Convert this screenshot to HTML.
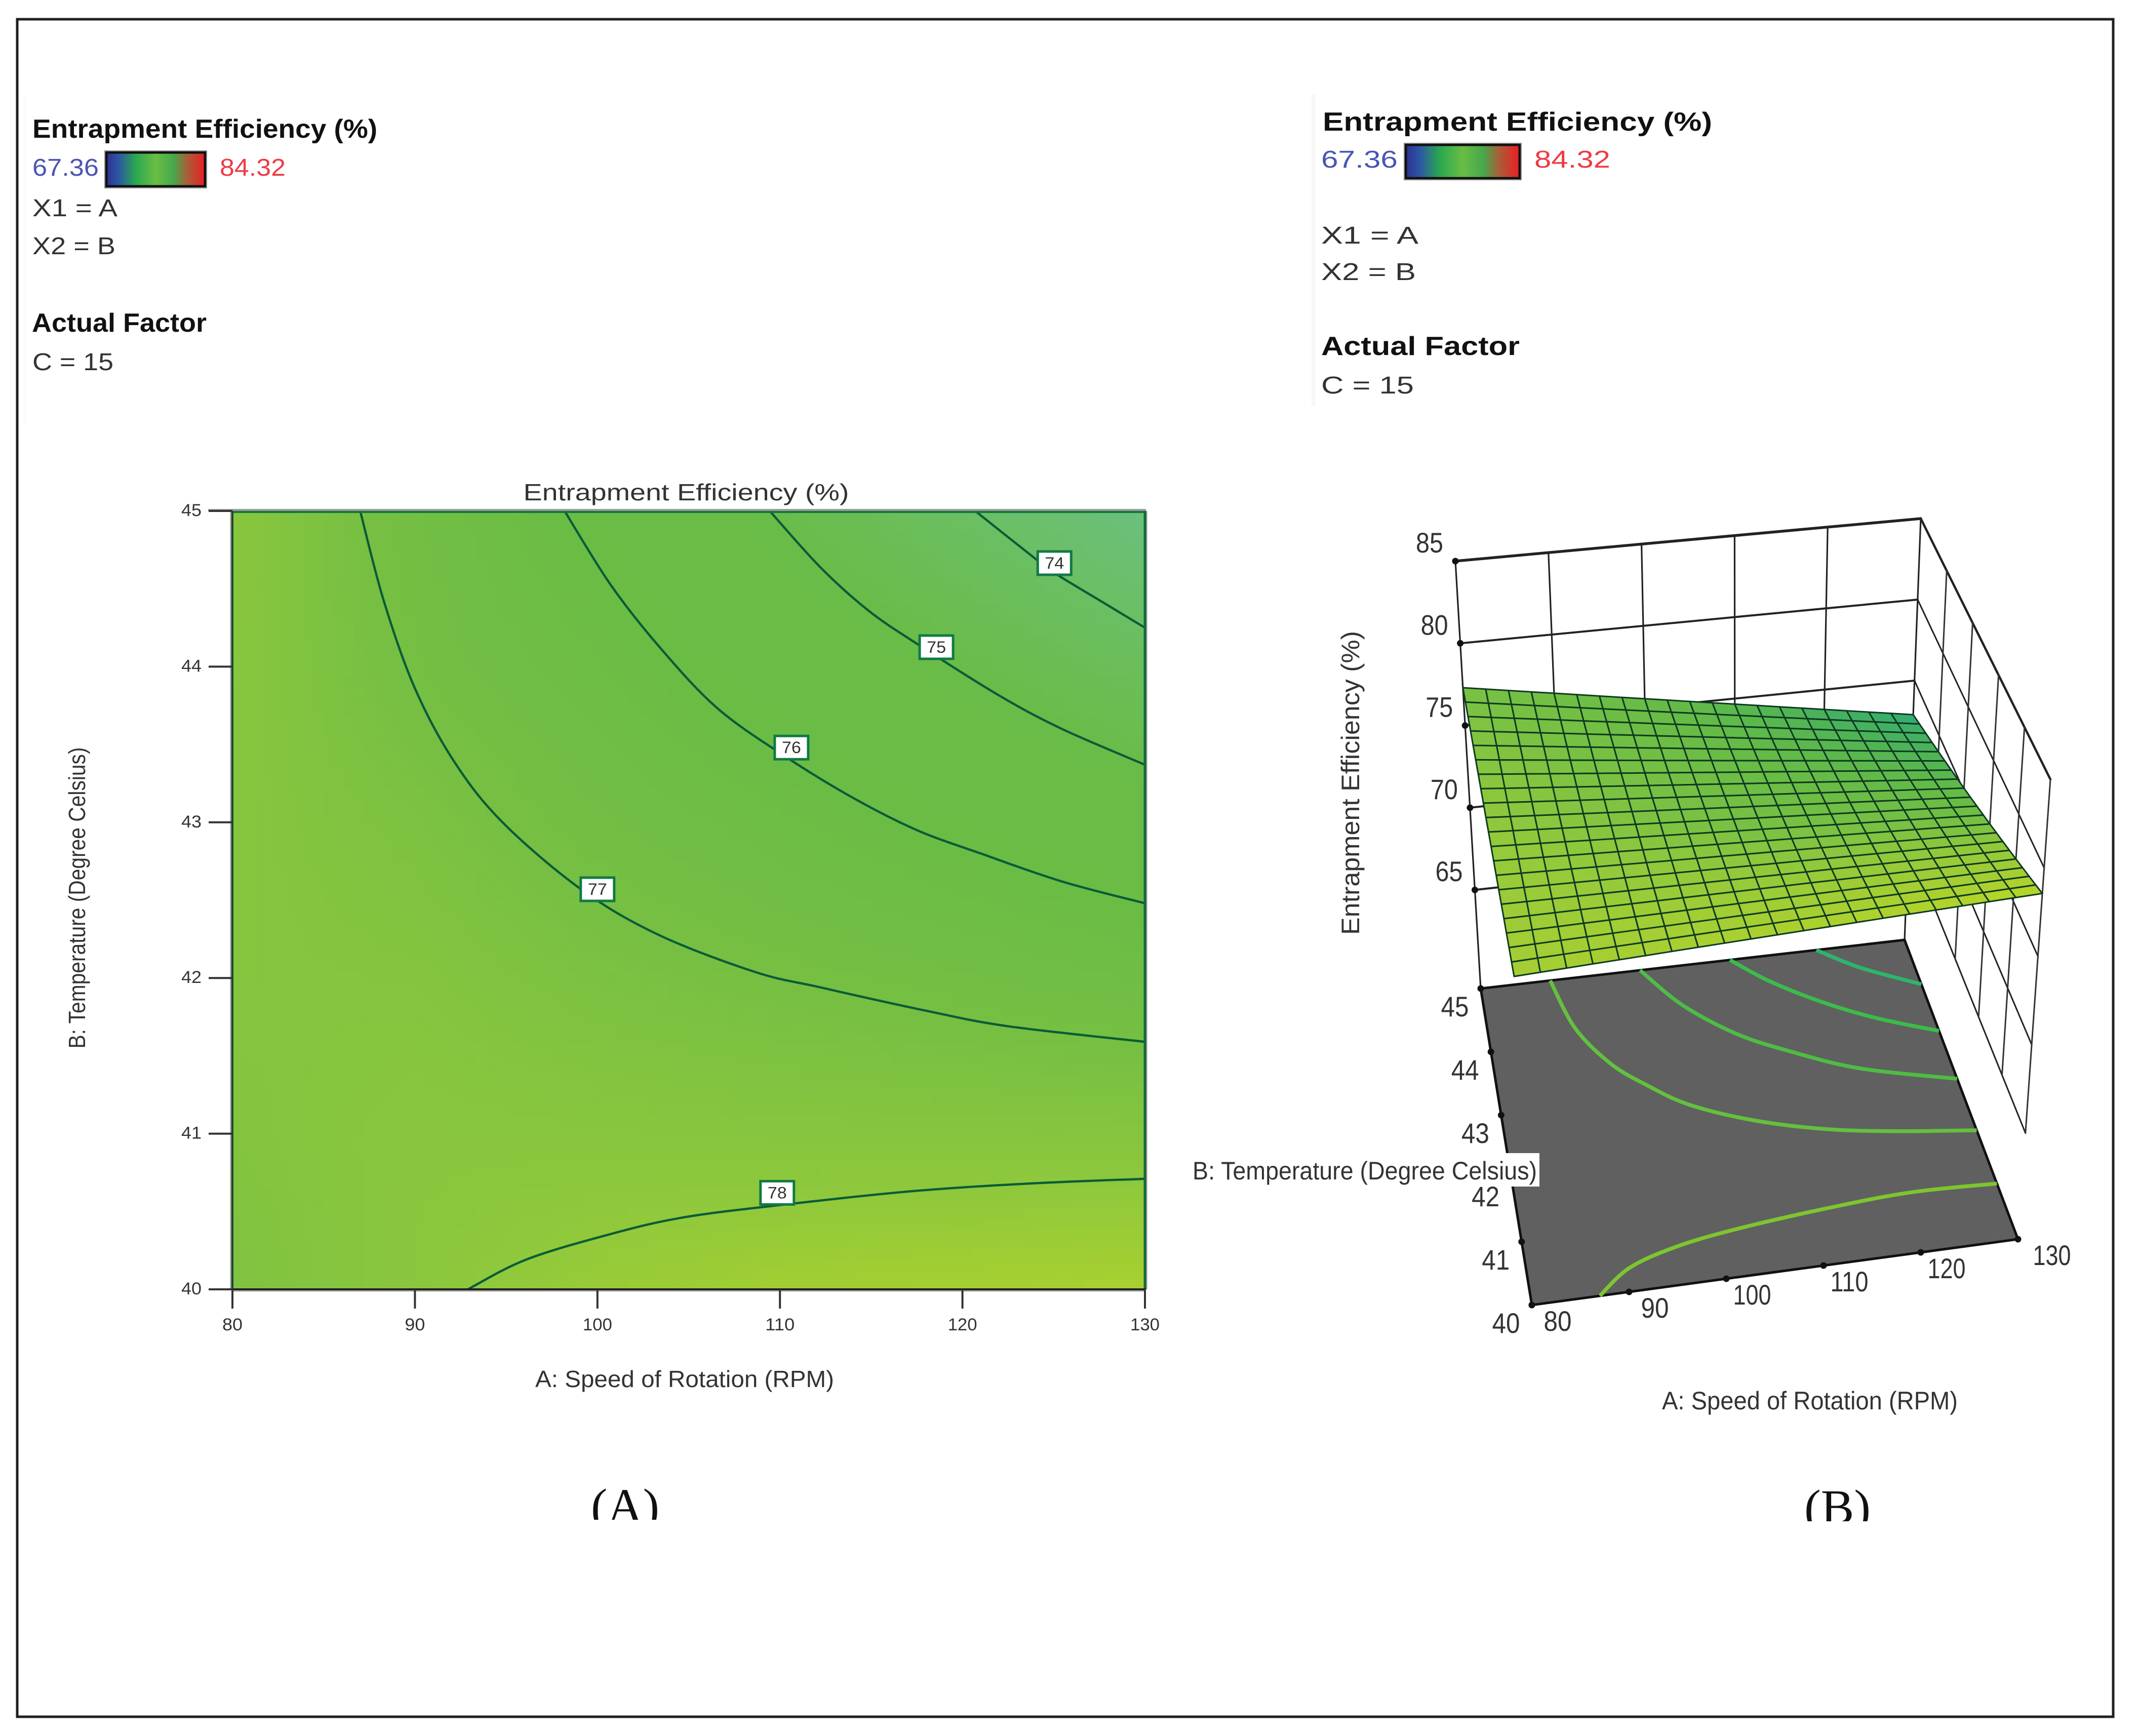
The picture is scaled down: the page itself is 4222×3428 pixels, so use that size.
<!DOCTYPE html>
<html lang="en">
<head>
<meta charset="utf-8">
<title>Entrapment Efficiency contour and surface plots</title>
<style>
html,body{margin:0;padding:0;background:#fff;}
svg{display:block;}
text{font-family:"Liberation Sans",sans-serif;}
.lg{font-size:48px;fill:#333;}
.lgb{font-size:52px;font-weight:bold;fill:#111;}
.ax{font-size:46px;fill:#333;}
.cap{font-family:"Liberation Serif",serif;font-size:98px;fill:#111;}
</style>
</head>
<body>
<svg id="root" xmlns="http://www.w3.org/2000/svg" width="4222" height="3428" viewBox="0 0 4222 3428">
<defs>
<linearGradient id="legendGrad" x1="0" x2="1" y1="0" y2="0">
<stop offset="0" stop-color="#2e3192"/><stop offset="0.12" stop-color="#2c55a5"/>
<stop offset="0.3" stop-color="#2aa84f"/><stop offset="0.5" stop-color="#6abd45"/>
<stop offset="0.68" stop-color="#45a84b"/><stop offset="0.82" stop-color="#a95e36"/>
<stop offset="1" stop-color="#ed1c24"/>
</linearGradient>
<clipPath id="capAClip"><rect x="1100" y="2900" width="300" height="101"/></clipPath>
<clipPath id="capBClip"><rect x="3500" y="2900" width="300" height="104"/></clipPath>
</defs>
<rect x="0" y="0" width="4222" height="3428" fill="#fff"/>
<rect x="34" y="38" width="4139" height="3352" fill="none" stroke="#231f20" stroke-width="5"/>
<rect x="46" y="190" width="6" height="650" fill="#fbfbfb"/>
<rect x="2590" y="186" width="8" height="616" fill="#f8f8f8"/>

<g>
<text class="lgb" x="64" y="272" textLength="681" lengthAdjust="spacingAndGlyphs">Entrapment Efficiency (%)</text>
<text class="lg" x="64" y="347" textLength="131" lengthAdjust="spacingAndGlyphs" style="fill:#4a55b5">67.36</text>
<rect x="210" y="301" width="195" height="67" fill="url(#legendGrad)" stroke="#111" stroke-width="5"/>
<rect x="207" y="298" width="201" height="73" fill="none" stroke="#8a8a8a" stroke-width="2"/>
<text class="lg" x="434" y="347" textLength="130" lengthAdjust="spacingAndGlyphs" style="fill:#ee3b45">84.32</text>
<text class="lg" x="64" y="427" textLength="168" lengthAdjust="spacingAndGlyphs">X1 = A</text>
<text class="lg" x="64" y="502" textLength="164" lengthAdjust="spacingAndGlyphs">X2 = B</text>
<text class="lgb" x="63" y="655" textLength="345" lengthAdjust="spacingAndGlyphs">Actual Factor</text>
<text class="lg" x="64" y="731" textLength="160" lengthAdjust="spacingAndGlyphs">C = 15</text>
</g>

<g>
<text class="lgb" x="2612" y="258" textLength="769" lengthAdjust="spacingAndGlyphs">Entrapment Efficiency (%)</text>
<text class="lg" x="2609" y="331" textLength="151" lengthAdjust="spacingAndGlyphs" style="fill:#4a55b5">67.36</text>
<rect x="2776" y="286" width="225" height="66" fill="url(#legendGrad)" stroke="#111" stroke-width="5"/>
<rect x="2773" y="283" width="231" height="72" fill="none" stroke="#8a8a8a" stroke-width="2"/>
<text class="lg" x="3030" y="331" textLength="150" lengthAdjust="spacingAndGlyphs" style="fill:#ee3b45">84.32</text>
<text class="lg" x="2609" y="481" textLength="192" lengthAdjust="spacingAndGlyphs">X1 = A</text>
<text class="lg" x="2609" y="553" textLength="187" lengthAdjust="spacingAndGlyphs">X2 = B</text>
<text class="lgb" x="2609" y="701" textLength="392" lengthAdjust="spacingAndGlyphs">Actual Factor</text>
<text class="lg" x="2609" y="777" textLength="183" lengthAdjust="spacingAndGlyphs">C = 15</text>
</g>

<g id="contourPlot"></g>
<text class="ax" x="1355" y="988" text-anchor="middle" textLength="643" lengthAdjust="spacingAndGlyphs">Entrapment Efficiency (%)</text>
<text class="ax" x="1352" y="2739" text-anchor="middle" textLength="590" lengthAdjust="spacingAndGlyphs">A: Speed of Rotation (RPM)</text>
<text class="ax" x="168" y="1773" text-anchor="middle" textLength="595" lengthAdjust="spacingAndGlyphs" transform="rotate(-90 168 1773)">B: Temperature (Degree Celsius)</text>

<g id="surfacePlot"></g>
<text class="ax" x="2684" y="1546" text-anchor="middle" textLength="600" lengthAdjust="spacingAndGlyphs" transform="rotate(-90 2684 1546)" style="font-size:50px">Entrapment Efficiency (%)</text>
<text class="ax" x="3574" y="2783" text-anchor="middle" textLength="584" lengthAdjust="spacingAndGlyphs" style="font-size:50px">A: Speed of Rotation (RPM)</text>
<rect x="2350" y="2277" width="690" height="66" fill="#fff"/>
<text class="ax" x="2355" y="2329" textLength="680" lengthAdjust="spacingAndGlyphs" style="font-size:50px">B: Temperature (Degree Celsius)</text>

<text class="cap" x="1167" y="3007" textLength="135" lengthAdjust="spacingAndGlyphs" clip-path="url(#capAClip)">(A)</text>
<text class="cap" x="3563" y="3009" textLength="131" lengthAdjust="spacingAndGlyphs" clip-path="url(#capBClip)">(B)</text>
</svg>

<script>
// ---- Chart data ----
const rpmTicks = [80, 90, 100, 110, 120, 130];
const tempTicks = [40, 41, 42, 43, 44, 45];
const effTicks = [65, 70, 75, 80, 85];

// Panel A background response at every rpmTicks (column) / tempTicks (row) crossing
const effAt40 = [77.4, 77.85, 78.3, 78.55, 78.65, 78.75];
const effAt41 = [77.55, 77.8, 77.75, 77.68, 77.67, 77.66];
const effAt42 = [77.65, 77.6, 77.25, 77.0, 76.75, 76.46];
const effAt43 = [77.7, 77.3, 76.76, 76.33, 75.85, 75.4];
const effAt44 = [77.75, 76.9, 76.3, 75.62, 74.95, 74.3];
const effAt45 = [77.8, 76.75, 75.8, 74.9, 74.05, 73.25];

// Panel A contour lines: speed / temperature pairs
const contour74Rpm = [120.7, 124.03, 125.2, 127.6, 130];
const contour74Temp = [45, 44.69, 44.59, 44.42, 44.25];
const contour75Rpm = [109.44, 112.2, 114.85, 117.6, 121.93, 125.45, 130];
const contour75Temp = [45, 44.64, 44.36, 44.14, 43.82, 43.6, 43.37];
const contour76Rpm = [98.2, 100.7, 103.3, 106.5, 110.2, 113.96, 117.5, 121, 125.45, 130];
const contour76Temp = [45, 44.53, 44.14, 43.74, 43.43, 43.16, 42.95, 42.8, 42.62, 42.48];
const contour77Rpm = [87, 88.3, 90, 92.15, 94.8, 99.1, 103.3, 108.6, 112.2, 118, 122.5, 130];
const contour77Temp = [45, 44.42, 43.86, 43.39, 43, 42.57, 42.28, 42.04, 41.94, 41.79, 41.69, 41.59];
const contour78Rpm = [92.9, 96.07, 100.56, 104.6, 109.9, 117.2, 123.7, 130];
const contour78Temp = [40, 40.19, 40.35, 40.46, 40.54, 40.63, 40.68, 40.71];

// Panel B floor contours: speed / temperature pairs
const floor74Rpm = [119.6, 123.85, 130];
const floor74Temp = [45, 44.64, 44.26];
const floor75Rpm = [109.4, 113.2, 118.5, 123.8, 130];
const floor75Temp = [45, 44.59, 44.15, 43.8, 43.48];
const floor76Rpm = [98.8, 102.6, 107.7, 113, 120, 130];
const floor76Temp = [45, 44.38, 43.83, 43.45, 43.04, 42.68];
const floor77Rpm = [88.2, 89.96, 93.1, 96.5, 100.6, 107, 114.2, 121.6, 130];
const floor77Temp = [45, 44.21, 43.59, 43.19, 42.8, 42.43, 42.15, 41.97, 41.82];
const floor78Rpm = [87, 90.5, 95.6, 102, 111.7, 121, 130];
const floor78Temp = [40, 40.37, 40.6, 40.75, 40.89, 40.97, 40.93];

// Panel B surface height at rpm 80 / 130
const surfaceEffAt45 = [77.3, 72.9];
const surfaceEffAt40 = [77.2, 78.55];
// Panel B surface colour level at rpm 80 / 105 / 130
const surfaceShadeAt45 = [76, 74.8, 72.8];
const surfaceShadeAt42 = [77, 75.8, 75.3];
const surfaceShadeAt40 = [78, 78.4, 79];

const contourLevels = [74, 75, 76, 77, 78];
const contourLabelRpm = [125.04, 118.57, 110.63, 100, 109.85];
const contourLabelTemp = [44.665, 44.125, 43.48, 42.57, 40.62];

// ---- Rendering ----
const NS = 'http://www.w3.org/2000/svg';
const contourRoot = document.getElementById('contourPlot');
const surfaceRoot = document.getElementById('surfacePlot');
const effGrid = [effAt40, effAt41, effAt42, effAt43, effAt44, effAt45];
const contourRpms = [contour74Rpm, contour75Rpm, contour76Rpm, contour77Rpm, contour78Rpm];
const contourTemps = [contour74Temp, contour75Temp, contour76Temp, contour77Temp, contour78Temp];
const floorRpms = [floor74Rpm, floor75Rpm, floor76Rpm, floor77Rpm, floor78Rpm];
const floorTemps = [floor74Temp, floor75Temp, floor76Temp, floor77Temp, floor78Temp];

function svg(tag, attrs, parent) {
  const n = document.createElementNS(NS, tag);
  for (const k in attrs) n.setAttribute(k, attrs[k]);
  parent.appendChild(n);
  return n;
}
function effAt(rpm, temp) {
  const fx = Math.min(4.9999, Math.max(0, (rpm - 80) / 10));
  const fy = Math.min(4.9999, Math.max(0, temp - 40));
  const i = Math.floor(fx), j = Math.floor(fy), a = fx - i, b = fy - j;
  return (effGrid[j][i] * (1 - a) + effGrid[j][i + 1] * a) * (1 - b) +
         (effGrid[j + 1][i] * (1 - a) + effGrid[j + 1][i + 1] * a) * b;
}
function surfaceEff(rpm, temp) {
  const a = (rpm - 80) / 50, b = (temp - 40) / 5;
  const low = surfaceEffAt40[0] * (1 - a) + surfaceEffAt40[1] * a;
  const high = surfaceEffAt45[0] * (1 - a) + surfaceEffAt45[1] * a;
  return low * (1 - b) + high * b;
}
function surfaceShade(rpm, temp) {
  const fx = Math.min(1.9999, (rpm - 80) / 25);
  const fy = Math.min(1.9999, (temp - 40) / 2.5);
  const i = Math.floor(fx), j = Math.floor(fy), a = fx - i, b = fy - j;
  const rows = [surfaceShadeAt40, surfaceShadeAt42, surfaceShadeAt45];
  return (rows[j][i] * (1 - a) + rows[j][i + 1] * a) * (1 - b) +
         (rows[j + 1][i] * (1 - a) + rows[j + 1][i + 1] * a) * b;
}
function ramp(stops, v) {
  if (v <= stops[0][0]) return 'rgb(' + stops[0].slice(1).join(',') + ')';
  for (let i = 1; i < stops.length; i++) {
    if (v <= stops[i][0]) {
      const t = (v - stops[i - 1][0]) / (stops[i][0] - stops[i - 1][0]);
      const c = [1, 2, 3].map(k => Math.round(stops[i - 1][k] + (stops[i][k] - stops[i - 1][k]) * t));
      return 'rgb(' + c.join(',') + ')';
    }
  }
  return 'rgb(' + stops[stops.length - 1].slice(1).join(',') + ')';
}
const flatScale = [[73,106,192,134],[74,107,191,100],[75,106,188,72],[76,106,188,69],[77,118,191,67],[78,142,200,60],[79,178,211,43]];
const meshScale = [[73,55,172,112],[74,80,180,85],[75,102,187,70],[76,122,193,67],[77,147,201,59],[78,165,206,51],[79,183,214,40]];
const floorScale = [[74,45,181,107],[75,60,187,75],[76,78,188,69],[77,100,192,62],[78,126,197,47]];

function smoothPath(pts) {
  let d = 'M' + pts[0][0].toFixed(1) + ' ' + pts[0][1].toFixed(1);
  for (let i = 0; i < pts.length - 1; i++) {
    const p0 = pts[Math.max(0, i - 1)], p1 = pts[i], p2 = pts[i + 1], p3 = pts[Math.min(pts.length - 1, i + 2)];
    d += ' C' + (p1[0] + (p2[0] - p0[0]) / 6).toFixed(1) + ' ' + (p1[1] + (p2[1] - p0[1]) / 6).toFixed(1) +
         ' ' + (p2[0] - (p3[0] - p1[0]) / 6).toFixed(1) + ' ' + (p2[1] - (p3[1] - p1[1]) / 6).toFixed(1) +
         ' ' + p2[0].toFixed(1) + ' ' + p2[1].toFixed(1);
  }
  return d;
}
function label(parent, str, x, y, size, len, anchor) {
  const t = svg('text', {x: x, y: y, 'font-size': size, fill: '#333', 'text-anchor': anchor || 'middle', textLength: len, lengthAdjust: 'spacingAndGlyphs'}, parent);
  t.textContent = str;
  return t;
}

// ---- Panel A: contour plot ----
const plotLeft = 459, plotRight = 2261, plotTop = 1009, plotBottom = 2546;
const xA = rpm => plotLeft + (rpm - 80) / 50 * (plotRight - plotLeft);
const yA = temp => plotBottom - (temp - 40) / 5 * (plotBottom - plotTop);

const cellsGroup = svg('g', {'shape-rendering': 'crispEdges'}, contourRoot);


const nCols = 90, nRows = 76;
for (let j = 0; j < nRows; j++) {
  for (let i = 0; i < nCols; i++) {
    const r0 = 80 + 50 * i / nCols, r1 = 80 + 50 * (i + 1) / nCols;
    const t0 = 40 + 5 * j / nRows, t1 = 40 + 5 * (j + 1) / nRows;
    const cell = svg('rect', {x: xA(r0), y: yA(t1), width: xA(r1) - xA(r0) + 1, height: yA(t0) - yA(t1) + 1,
      fill: ramp(flatScale, effAt((r0 + r1) / 2, (t0 + t1) / 2))}, cellsGroup);
    
    
  }
}
contourLevels.forEach((lvl, k) => {
  const pts = contourRpms[k].map((r, i) => [xA(r), yA(contourTemps[k][i])]);
  const line = svg('path', {d: smoothPath(pts), fill: 'none', stroke: '#0b5c38', 'stroke-width': 4.5}, contourRoot);
  
  
});
const frameBits = [
  [plotLeft - 48, plotTop - 2, plotRight + 2, plotTop - 2, '#9a9a9a', 4],
  [plotLeft, plotTop + 2, plotRight, plotTop + 2, '#0b7a3c', 4],
  [plotRight + 3, plotTop, plotRight + 3, plotBottom, '#999', 3],
  [plotRight, plotTop, plotRight, plotBottom, '#11693a', 5],
  [plotLeft - 3, plotTop, plotLeft - 3, plotBottom, '#999', 3],
  [plotLeft, plotTop, plotLeft, plotBottom, '#1c4a30', 4],
  [plotLeft, plotBottom + 3, plotRight, plotBottom + 3, '#aaa', 3],
  [plotLeft - 2, plotBottom, plotRight + 2, plotBottom, '#222', 4]
];
frameBits.forEach(b => {
  const edge = svg('line', {x1: b[0], y1: b[1], x2: b[2], y2: b[3], stroke: b[4], 'stroke-width': b[5]}, contourRoot);
  
  
});
rpmTicks.forEach(v => {
  const tick = svg('line', {x1: xA(v), y1: plotBottom, x2: xA(v), y2: plotBottom + 38, stroke: '#333', 'stroke-width': 4}, contourRoot);
  
  
  const txt = label(contourRoot, String(v), xA(v), 2627, 34, v >= 100 ? 58 : 40);
  
  
});
tempTicks.forEach(v => {
  const tick = svg('line', {x1: plotLeft - 47, y1: yA(v), x2: plotLeft, y2: yA(v), stroke: '#333', 'stroke-width': 4}, contourRoot);
  
  
  const txt = label(contourRoot, String(v), 378, yA(v) + 10, 34, 40);
  
  
});
contourLevels.forEach((lvl, k) => {
  const cx = xA(contourLabelRpm[k]), cy = yA(contourLabelTemp[k]);
  const box = svg('rect', {x: cx - 33, y: cy - 23, width: 66, height: 46, fill: '#fff', stroke: '#117a44', 'stroke-width': 5}, contourRoot);
  
  
  const txt = label(contourRoot, String(lvl), cx, cy + 11, 32, 38);
  
  
});

// ---- Panel B: projected surface ----
function patch(q) {
  return (u, v) => [0, 1].map(k =>
    (q[0][k] * (1 - u) + q[1][k] * u) * (1 - v) + (q[3][k] * (1 - u) + q[2][k] * u) * v);
}
const floorEff = 59, topEff = 85;
const floorPlane = patch([[2924, 1952], [3761, 1856], [3985, 2447], [3025, 2577]]);
const topPlane = patch([[2874, 1108], [3793, 1024], [4049, 1539], [2975, 1650]]);
function project(rpm, temp, eff) {
  const u = (rpm - 80) / 50, v = (45 - temp) / 5, w = (eff - floorEff) / (topEff - floorEff);
  const f = floorPlane(u, v), t = topPlane(u, v);
  return [f[0] + (t[0] - f[0]) * w, f[1] + (t[1] - f[1]) * w];
}
function seg(a, b, color, width) {
  return svg('line', {x1: a[0], y1: a[1], x2: b[0], y2: b[1], stroke: color, 'stroke-width': width, 'stroke-linecap': 'round'}, surfaceRoot);
}
// wall grid
effTicks.forEach(z => {
  const heavy = z === 85;
  const back = seg(project(80, 45, z), project(130, 45, z), '#222', heavy ? 5.5 : 4);
  
  
  const side = seg(project(130, 45, z), project(130, 40, z), '#222', heavy ? 4.5 : 3);
  
  
});
rpmTicks.forEach(r => {
  const line = seg(project(r, 45, 85), project(r, 45, r === 80 || r === 130 ? floorEff : 65), '#222', 3.2);
  
  
});
tempTicks.filter(t => t < 45).forEach(t => {
  const line = seg(project(130, t, 85), project(130, t, 65), '#333', 3);
  
  
});
// floor
const floorCorners = [project(80, 45, floorEff), project(130, 45, floorEff), project(130, 40, floorEff), project(80, 40, floorEff)];
const floorPoly = svg('polygon', {points: floorCorners.map(p => p.join(',')).join(' '), fill: '#606060', stroke: '#111', 'stroke-width': 5}, surfaceRoot);


contourLevels.forEach((lvl, k) => {
  const pts = floorRpms[k].map((r, i) => project(r, floorTemps[k][i], floorEff));
  const line = svg('path', {d: smoothPath(pts), fill: 'none', stroke: ramp(floorScale, lvl), 'stroke-width': 7.5}, surfaceRoot);
  
  
});
// mesh
const meshN = 20;
for (let j = 0; j < meshN; j++) {
  for (let i = 0; i < meshN; i++) {
    const r0 = 80 + 50 * i / meshN, r1 = 80 + 50 * (i + 1) / meshN;
    const t0 = 45 - 5 * j / meshN, t1 = 45 - 5 * (j + 1) / meshN;
    const pts = [[r0, t0], [r1, t0], [r1, t1], [r0, t1]].map(c => project(c[0], c[1], surfaceEff(c[0], c[1])));
    const quad = svg('polygon', {points: pts.map(p => p[0].toFixed(1) + ',' + p[1].toFixed(1)).join(' '),
      fill: ramp(meshScale, surfaceShade((r0 + r1) / 2, (t0 + t1) / 2)), stroke: '#0e3a20', 'stroke-width': 3, 'stroke-linejoin': 'round'}, surfaceRoot);
    
    
  }
}
// dots and tick labels
function dot(p) {
  return svg('circle', {cx: p[0], cy: p[1], r: 6.5, fill: '#111'}, surfaceRoot);
}
effTicks.forEach(z => {
  const p = project(80, 45, z);
  const d = dot(p);
  
  
  const txt = label(surfaceRoot, String(z), p[0] - 51, p[1] - 37 + 20, 56, 54);
  
  
});
tempTicks.forEach(t => {
  const p = project(80, t, floorEff);
  const d = dot(p);
  
  
  const txt = label(surfaceRoot, String(t), p[0] - 51, p[1] + 35 + 20, 56, 55);
  
  
});
rpmTicks.forEach(r => {
  const p = project(r, 40, floorEff);
  const d = dot(p);
  
  
  const txt = label(surfaceRoot, String(r), p[0] + (r === 130 ? 67 : 51), p[1] + 31 + 20, 56, r >= 100 ? 75 : 55);
  
  
});
</script>
</body>
</html>
